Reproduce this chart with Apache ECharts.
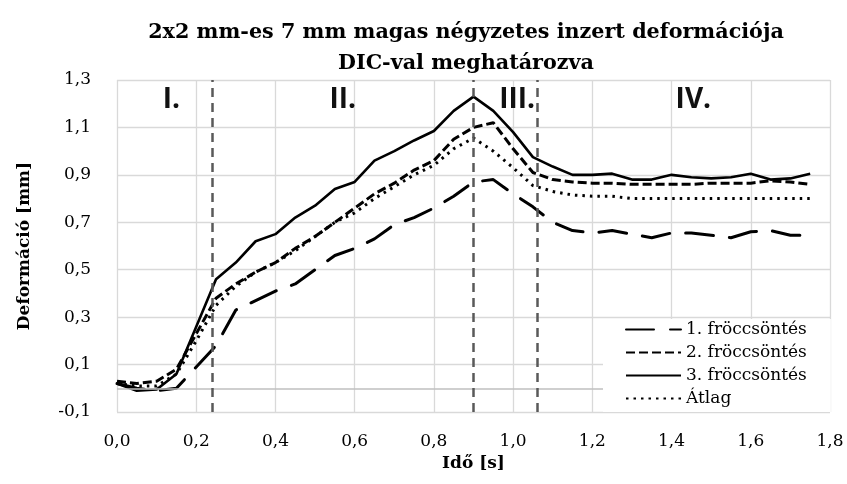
<!DOCTYPE html>
<html>
<head>
<meta charset="utf-8">
<script src="https://cdn.jsdelivr.net/npm/echarts@6/dist/echarts.min.js"></script>
<style>
html, body { margin: 0; padding: 0; background: #fff; }
#chart { width: 847px; height: 484px; }
</style>
</head>
<body>
<div id="chart"></div>
<script>
// idő [s]
var times = [0, 0.05, 0.1, 0.15, 0.2, 0.25, 0.3, 0.35, 0.4, 0.45, 0.5, 0.55, 0.6, 0.65, 0.7, 0.75, 0.8, 0.85,
    0.9, 0.95, 1.0, 1.05, 1.1, 1.15, 1.2, 1.25, 1.3, 1.35, 1.4, 1.45, 1.5, 1.55, 1.6, 1.65, 1.7, 1.75];

// deformáció [mm]
var injection1 = [0.02, 0.0, -0.01, 0.0, 0.09, 0.18, 0.33, 0.37, 0.41, 0.44, 0.50, 0.56, 0.59, 0.63, 0.69, 0.72, 0.76, 0.81,
    0.87, 0.88, 0.82, 0.765, 0.70, 0.665, 0.655, 0.665, 0.65, 0.635, 0.655, 0.655, 0.645, 0.635, 0.66, 0.665, 0.645, 0.645];
var injection2 = [0.03, 0.02, 0.03, 0.08, 0.23, 0.38, 0.44, 0.49, 0.53, 0.59, 0.64, 0.70, 0.76, 0.82, 0.865, 0.92, 0.96, 1.05,
    1.10, 1.12, 1.01, 0.91, 0.88, 0.87, 0.865, 0.865, 0.86, 0.86, 0.86, 0.86, 0.865, 0.865, 0.865, 0.875, 0.87, 0.86];
var injection3 = [0.02, -0.01, -0.005, 0.06, 0.26, 0.46, 0.53, 0.62, 0.65, 0.72, 0.77, 0.84, 0.87, 0.96, 1.0, 1.045, 1.085, 1.17,
    1.23, 1.17, 1.08, 0.975, 0.935, 0.90, 0.90, 0.905, 0.88, 0.88, 0.90, 0.89, 0.885, 0.89, 0.905, 0.88, 0.885, 0.905];
var average = [0.02, 0.01, 0.01, 0.06, 0.2, 0.35, 0.43, 0.49, 0.53, 0.58, 0.64, 0.70, 0.74, 0.80, 0.85, 0.90, 0.94, 1.01,
    1.055, 1.00, 0.93, 0.855, 0.83, 0.815, 0.81, 0.81, 0.80, 0.80, 0.80, 0.80, 0.80, 0.80, 0.80, 0.80, 0.80, 0.80];

var seriesNames = ['1. fröccsöntés', '2. fröccsöntés', '3. fröccsöntés', 'Átlag'];

// szakaszhatárok [s] és a szakaszok feliratai
var phaseBounds = [0.242, 0.904, 1.063];
var phaseLabels = ['I.', 'II.', 'III.', 'IV.'];
var phaseLabelX = [0.137, 0.57, 1.01, 1.455];
var phaseLabelY = 1.215;

var serif = 'DejaVu Serif';

function pairs(values) {
    return times.map(function (t, i) {
        return [t, values[i]];
    });
}

function fmt(v) {
    return (Math.round(v * 10) / 10).toFixed(1).replace('.', ',');
}

var chart = echarts.init(document.getElementById('chart'), null, {renderer: 'canvas'});

var markLines = phaseBounds.map(function (b) {
    return {xAxis: b};
});
markLines.unshift({
    yAxis: 0,
    lineStyle: {color: '#bfbfbf', width: 1.5, type: 'solid'}
});

var option = {
    animation: false,
    backgroundColor: '#fff',
    title: {
        text: '2x2 mm-es 7 mm magas négyzetes inzert deformációja\nDIC-val meghatározva',
        left: 461,
        top: 12,
        textAlign: 'center',
        textStyle: {
            fontFamily: serif,
            fontWeight: 'bold',
            fontSize: 20.7,
            lineHeight: 31,
            color: '#000'
        }
    },
    grid: {
        left: 117,
        right: 17,
        top: 80,
        bottom: 72,
        containLabel: false
    },
    legend: {
        data: seriesNames,
        orient: 'vertical',
        left: 603,
        top: 319,
        z: 20,
        padding: [2, 24, 5, 22],
        itemWidth: 55,
        itemHeight: 14,
        itemGap: 6,
        backgroundColor: '#fff',
        itemStyle: {color: 'rgba(0,0,0,0)', borderWidth: 0, opacity: 0},
        textStyle: {fontFamily: serif, fontSize: 17, color: '#000'}
    },
    xAxis: {
        type: 'value',
        min: 0,
        max: 1.8,
        interval: 0.2,
        name: 'Idő [s]',
        nameLocation: 'middle',
        nameGap: 42,
        nameTextStyle: {fontFamily: serif, fontWeight: 'bold', fontSize: 17, color: '#000'},
        axisLine: {show: false},
        axisTick: {show: false},
        axisLabel: {
            formatter: fmt,
            margin: 21,
            fontFamily: serif,
            fontSize: 17,
            color: '#000'
        },
        splitLine: {lineStyle: {color: '#d9d9d9', width: 1.3}}
    },
    yAxis: {
        type: 'value',
        min: -0.1,
        max: 1.3,
        interval: 0.1,
        name: 'Deformáció [mm]',
        nameLocation: 'middle',
        nameGap: 84,
        nameTextStyle: {fontFamily: serif, fontWeight: 'bold', fontSize: 17, color: '#000'},
        axisLine: {show: false},
        axisTick: {show: false},
        axisLabel: {
            formatter: function (v) {
                return Math.round(v * 10) % 2 !== 0 ? fmt(v) : '';
            },
            margin: 26,
            fontFamily: serif,
            fontSize: 17,
            color: '#000'
        },
        splitLine: {lineStyle: {color: ['#d9d9d9', 'rgba(0,0,0,0)'], width: 1.3}}
    },
    series: [
        {
            name: seriesNames[0],
            type: 'line',
            data: pairs(injection1),
            symbol: 'none',
            itemStyle: {color: '#000'},
            lineStyle: {color: '#000', width: 3, type: [28, 16], cap: 'round'},
            markLine: {
                silent: true,
                symbol: ['none', 'none'],
                label: {show: false},
                lineStyle: {color: '#595959', width: 2.5, type: [9, 6]},
                data: markLines
            },
            z: 3
        },
        {
            name: seriesNames[1],
            type: 'line',
            data: pairs(injection2),
            symbol: 'none',
            itemStyle: {color: '#000'},
            lineStyle: {color: '#000', width: 3, type: [9, 4]},
            z: 3
        },
        {
            name: seriesNames[2],
            type: 'line',
            data: pairs(injection3),
            symbol: 'none',
            itemStyle: {color: '#000'},
            lineStyle: {color: '#000', width: 2.6},
            markPoint: {
                silent: true,
                symbol: 'circle',
                symbolSize: 1,
                itemStyle: {color: 'rgba(0,0,0,0)'},
                label: {
                    show: true,
                    position: 'inside',
                    formatter: function (p) { return p.name; },
                    fontFamily: 'Open Sans',
                    fontWeight: 'bold',
                    fontSize: 28,
                    color: '#111'
                },
                data: phaseLabels.map(function (lbl, i) {
                    return {name: lbl, coord: [phaseLabelX[i], phaseLabelY]};
                })
            },
            z: 3
        },
        {
            name: seriesNames[3],
            type: 'line',
            data: pairs(average),
            symbol: 'none',
            itemStyle: {color: '#000'},
            lineStyle: {color: '#000', width: 3, type: [2.5, 5]},
            z: 3
        }
    ]
};

chart.setOption(option);
</script>
</body>
</html>
